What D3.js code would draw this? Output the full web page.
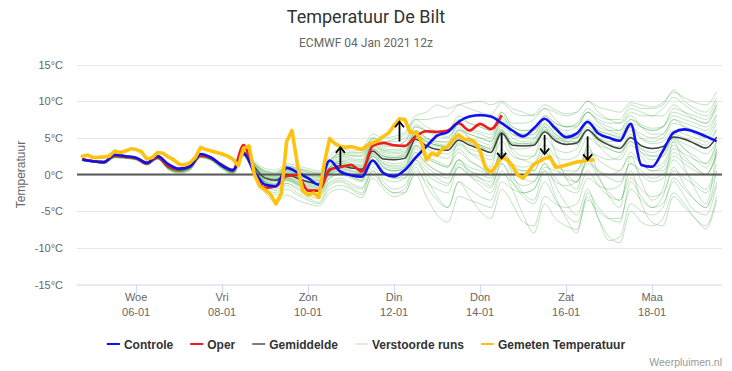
<!DOCTYPE html>
<html><head><meta charset="utf-8">
<script src="https://cdn.jsdelivr.net/npm/d3@7"></script>
<style>
body{margin:0;background:#fff;}
svg{display:block;font-family:"Liberation Sans",Arial,Helvetica,sans-serif;}
</style>
</head><body>
<svg id="chart" width="732" height="371"></svg>
<script>
// ---------- DATA ----------
const titleText = "Temperatuur De Bilt";
const subtitleText = "ECMWF 04 Jan 2021 12z";
const runStartUTC = Date.UTC(2021, 0, 4, 12); // forecast base time
// x-axis ticks (hours after run start) and labels
const tickHours = [36, 84, 132, 180, 228, 276, 324];
const tickDays = ["Woe", "Vri", "Zon", "Din", "Don", "Zat", "Maa"];
const tickDates = ["06-01", "08-01", "10-01", "12-01", "14-01", "16-01", "18-01"];
const yTicks = [-15, -10, -5, 0, 5, 10, 15];

// 6-hourly forecast steps (hours after run start)
const stepHours = [6,12,18,24,30,36,42,48,54,60,66,72,78,84,90,96,102,108,114,120,126,132,138,144,150,156,162,168,174,180,186,192,198,204,210,216,222,228,234,240,246,252,258,264,270,276,282,288,294,300,306,312,318,324,330,336,342,348,354,360];

const controle = [2.05,1.8,1.7,2.7,2.5,2.3,1.6,2.5,1.4,0.8,1.1,2.8,2.3,1.2,0.6,2.8,0.4,-1.4,-1.6,0.9,0.3,-0.5,-1.4,1.9,0.4,-0.1,-0.3,1.9,0.2,-0.25,0.6,2.3,3.8,5.3,5.8,7.2,7.9,8.1,7.9,7.0,6.0,5.2,6.3,7.6,6.3,5.1,5.6,7.2,5.6,5.0,4.6,6.9,1.3,1.05,3.2,5.7,6.15,5.8,5.2,4.55];

const oper = [2.1,1.8,1.7,2.6,2.4,2.2,1.5,2.4,1.1,0.7,1.1,2.6,2.2,1.3,0.6,4.0,0.0,-1.8,-1.6,-0.2,-0.1,-2.2,-2.2,0.7,1.0,1.3,0.4,3.9,4.3,4.0,3.9,5.2,5.9,5.8,6.0,7.0,6.0,6.9,6.2,8.1];

const gemiddelde = [2.0,1.8,1.6,2.5,2.4,2.2,1.5,2.3,1.0,0.6,1.0,2.6,2.2,1.2,0.5,3.0,1.0,-0.5,-0.8,0.0,-0.5,-1.0,-1.3,0.5,1.2,0.9,0.7,3.2,2.1,2.0,2.2,4.8,3.9,3.4,3.3,4.7,4.0,3.5,3.0,5.7,4.0,3.9,4.0,5.8,4.6,4.1,4.3,6.1,4.8,4.0,3.55,5.0,3.9,3.55,3.8,5.1,4.8,4.2,3.6,5.1];

// measured temperature, 3-hourly (hours after run start)
const gemetenHours = [6,9,12,15,18,21,24,27,30,33,36,39,42,45,48,51,54,57,60,63,66,69,72,75,78,81,84,87,90,93,96,99,102,105,108,111,114,117,120,123,126,129,132,135,138,141,144,147,150,153,156,159,162,165,168,171,174,177,180,183,186,189,192,195,198,201,204,207,210,213,216,219,222,225,228,231,234,237,240,243,246,249,252,255,258,261,264,267,270,273,276,279,282,285,288,291];
const gemeten = [2.5,2.65,2.3,2.35,2.4,2.5,3.2,3.0,3.2,3.5,3.4,3.1,2.1,2.3,3.0,2.9,2.4,2.0,1.4,1.3,1.6,2.3,3.7,3.4,3.2,3.0,2.8,2.5,2.1,1.2,3.6,3.9,0.0,-1.6,-2.1,-2.7,-4.0,-2.6,4.5,6.0,1.4,-2.3,-2.8,-2.5,-3.1,1.5,4.9,4.2,3.8,3.7,3.8,3.6,3.4,4.0,4.3,4.6,5.2,5.7,6.7,7.6,7.5,5.7,5.8,4.6,2.0,2.9,2.6,3.5,3.8,4.8,5.4,4.8,4.8,4.4,3.2,0.9,0.3,1.2,2.4,2.0,1.2,-0.1,-0.5,0.4,1.4,1.8,2.2,2.4,1.0,1.1,1.3,1.5,1.7,1.8,1.95,2.0];

// annotation arrows (hour, from value, to value)
const arrowHours = [150, 183, 240, 264, 288];
const arrowFrom = [1.3, 4.5, 5.6, 5.4, 5.2];
const arrowTo = [3.7, 7.2, 2.2, 2.8, 2.0];

// perturbed ensemble members (Verstoorde runs), 6-hourly
const members = [
[2.1,1.9,1.7,2.6,2.5,2.3,1.6,2.4,1.1,0.7,1.1,2.7,2.3,1.3,0.6,3.1,1.5,0.2,-0.1,0.8,0.5,0.0,-0.3,1.8,2.5,2.2,2.0,4.5,3.5,3.4,3.8,6.5,5.8,5.2,5.0,6.8,6.2,5.8,5.5,7.8,6.5,6.0,6.2,8.0,7.0,6.5,6.8,8.5,7.2,6.5,6.0,7.5,6.8,6.3,6.5,8.0,7.5,7.0,6.5,8.2],
[1.9,1.7,1.5,2.4,2.3,2.1,1.4,2.2,0.8,0.4,0.8,2.5,2.1,1.0,0.3,2.8,0.3,-1.5,-2.0,-1.2,-1.8,-2.5,-2.8,-1.0,-0.5,-1.2,-1.8,1.0,-0.5,-1.0,-0.5,2.0,0.5,-0.5,-1.2,1.0,-0.2,-1.0,-1.8,1.5,-0.5,-1.5,-1.0,1.5,-0.5,-2.0,-2.5,0.5,-1.5,-3.0,-3.5,-0.5,-2.0,-3.0,-2.5,0.5,-0.5,-1.5,-2.5,0.5],
[2.0,1.8,1.6,2.5,2.4,2.2,1.5,2.3,0.9,0.5,0.9,2.6,2.2,1.1,0.4,2.9,0.8,-1.0,-1.5,-0.5,-1.2,-1.8,-2.2,0.0,0.5,0.0,-0.5,2.0,0.8,0.5,0.8,3.0,1.5,0.5,0.0,2.0,0.5,-0.5,-1.5,1.5,-1.0,-3.0,-4.0,-1.0,-3.5,-5.5,-6.5,-3.0,-6.0,-8.5,-9.3,-5.0,-6.5,-7.0,-6.0,-2.5,-4.0,-6.0,-7.0,-3.0],
[2.1,1.9,1.8,2.7,2.6,2.4,1.7,2.5,1.2,0.8,1.2,2.8,2.4,1.4,0.8,3.2,1.8,0.8,0.6,1.5,1.2,0.8,0.5,2.5,3.5,3.2,3.5,5.5,5.0,5.2,5.8,8.0,8.5,9.5,9.0,9.5,9.0,8.5,8.2,9.8,8.5,8.0,8.2,9.5,8.8,8.3,8.5,10.0,9.2,8.8,8.5,9.8,9.5,9.2,9.8,11.2,10.5,9.8,9.5,11.3],
[1.9,1.7,1.5,2.3,2.2,2.0,1.3,2.1,0.7,0.2,0.6,2.3,1.9,0.8,0.0,2.6,0.0,-2.0,-2.8,-2.0,-2.8,-3.5,-4.0,-2.0,-1.5,-2.0,-2.8,-0.5,-2.0,-3.0,-2.5,0.0,-3.0,-5.5,-6.5,-3.0,-3.5,-4.0,-4.5,-1.0,-2.0,-2.5,-2.0,0.5,-1.0,-1.5,-1.0,1.5,0.5,0.0,0.5,2.5,1.5,0.5,1.0,3.5,2.8,2.0,1.5,4.0],
[2.0,1.8,1.7,2.5,2.4,2.2,1.6,2.3,1.1,0.7,1.1,2.7,2.3,1.3,0.6,3.1,1.2,-0.2,-0.5,0.5,0.0,-0.5,-0.8,1.0,1.8,1.5,1.2,3.8,2.8,2.5,2.8,5.5,4.5,4.0,3.8,5.2,4.5,4.0,3.5,6.5,5.0,4.5,4.8,6.8,5.5,5.0,5.2,7.0,5.8,5.0,4.5,6.0,4.8,4.2,4.5,6.0,5.5,5.0,4.5,6.2],
[2.0,1.8,1.6,2.5,2.4,2.1,1.4,2.3,1.0,0.5,0.9,2.5,2.1,1.1,0.4,2.9,0.6,-1.2,-1.8,-0.8,-1.5,-2.2,-2.8,-0.5,0.2,-0.3,-0.8,2.5,1.0,0.5,1.0,4.0,2.5,1.5,1.0,4.5,3.0,2.0,1.0,6.0,3.0,2.0,2.5,6.5,3.0,-0.5,-2.0,4.0,0.0,-3.0,-4.5,2.5,-1.0,-3.5,-2.0,4.5,1.0,-2.0,-4.0,3.5],
[2.1,1.9,1.7,2.6,2.5,2.3,1.6,2.4,1.1,0.6,1.0,2.6,2.2,1.2,0.5,3.0,1.0,-0.5,-0.9,0.0,-0.5,-1.0,-1.4,0.8,1.5,1.0,0.8,3.5,2.5,2.3,2.8,6.0,5.0,4.5,4.5,7.0,6.0,5.5,5.0,8.0,6.0,5.5,5.5,7.5,6.0,5.0,5.0,7.0,5.0,4.0,3.5,5.5,3.0,2.0,2.5,5.0,3.5,2.5,1.5,4.5],
[1.9,1.7,1.5,2.4,2.3,2.1,1.4,2.2,0.9,0.4,0.8,2.4,2.0,0.9,0.2,2.8,0.5,-1.0,-1.5,-0.5,-1.0,-1.5,-1.8,0.0,0.5,0.0,-0.3,2.5,1.0,0.5,0.5,3.0,1.5,0.5,0.0,2.0,0.0,-1.5,-2.5,0.5,-2.0,-5.5,-8.0,-4.0,-6.0,-7.0,-7.5,-3.5,-5.0,-6.0,-6.0,-2.0,-3.5,-4.5,-4.0,-0.5,-2.0,-3.5,-4.5,-1.0],
[2.0,1.8,1.7,2.6,2.5,2.3,1.6,2.4,1.2,0.8,1.2,2.8,2.4,1.4,0.7,3.1,1.5,0.5,0.3,1.2,0.8,0.5,0.2,2.0,3.0,3.0,3.0,5.0,4.5,4.8,5.5,7.5,7.5,7.8,8.0,9.5,9.8,10.0,9.5,10.0,9.0,8.5,8.0,9.0,7.5,6.5,6.5,8.5,7.0,6.0,5.5,7.5,6.5,6.0,6.5,9.0,8.5,8.0,7.5,9.5],
[2.0,1.8,1.6,2.5,2.4,2.2,1.5,2.3,1.0,0.6,1.0,2.6,2.2,1.2,0.5,3.0,0.8,-0.8,-1.2,-0.3,-0.8,-1.3,-1.6,0.2,0.8,0.5,0.2,3.0,1.8,1.5,1.8,4.5,3.5,3.0,2.8,4.2,3.5,3.0,2.5,5.5,3.5,3.5,4.0,6.0,5.0,4.5,5.0,7.0,6.0,5.5,5.0,6.5,5.0,4.5,5.0,7.0,6.5,6.0,5.5,7.5],
[1.9,1.7,1.6,2.4,2.3,2.1,1.4,2.2,0.9,0.5,0.9,2.5,2.1,1.1,0.4,2.9,0.9,-0.7,-1.0,-0.2,-0.7,-1.2,-1.5,0.3,1.0,0.6,0.3,2.8,1.5,1.2,1.5,4.0,3.0,2.5,2.2,4.0,3.0,2.5,2.0,4.5,2.5,2.0,1.5,3.5,1.5,0.0,-1.0,2.0,-0.5,-2.5,-3.5,0.5,-4.0,-6.5,-7.0,-3.0,-4.5,-6.0,-7.4,-3.5],
[2.1,1.9,1.7,2.6,2.4,2.2,1.5,2.3,1.0,0.6,1.0,2.7,2.3,1.3,0.6,3.1,1.3,0.0,-0.3,0.6,0.2,-0.2,-0.5,1.2,2.0,1.8,1.6,4.2,3.2,3.0,3.2,5.8,4.8,4.2,4.0,5.5,4.5,4.0,3.6,6.2,4.5,4.2,4.5,6.5,5.2,4.8,5.0,7.2,6.0,5.5,5.2,7.0,6.5,6.0,6.5,8.5,8.0,7.5,7.0,9.0],
[1.9,1.7,1.5,2.3,2.2,2.0,1.3,2.1,0.7,0.3,0.7,2.4,2.0,1.0,0.2,2.7,0.2,-1.8,-2.5,-1.5,-2.5,-3.2,-3.8,-1.5,-1.0,-1.8,-2.5,0.5,-1.5,-2.5,-2.0,1.0,-1.5,-3.5,-4.5,-1.0,-2.0,-3.0,-3.5,0.0,-1.0,-2.5,-2.0,1.0,0.5,0.0,0.5,3.0,2.5,2.0,2.5,4.5,3.5,3.0,3.5,5.5,5.0,4.5,4.0,6.0],
[2.0,1.8,1.7,2.6,2.5,2.3,1.6,2.4,1.1,0.7,1.1,2.7,2.3,1.3,0.6,3.1,1.2,-0.3,-0.6,0.3,-0.2,-0.6,-0.9,1.0,1.6,1.2,1.0,3.5,2.5,2.2,2.5,5.5,4.5,4.0,3.8,6.0,5.5,5.0,4.5,7.5,6.0,5.5,6.0,8.0,7.0,6.5,7.0,9.0,8.0,7.5,7.5,9.5,9.0,9.0,9.5,11.5,10.0,9.0,8.5,10.5],
[2.0,1.8,1.6,2.5,2.4,2.2,1.5,2.3,1.0,0.5,0.9,2.5,2.1,1.1,0.4,2.9,0.7,-1.0,-1.4,-0.6,-1.2,-1.7,-2.0,0.0,0.6,0.2,-0.2,2.5,1.2,0.8,1.0,3.5,2.2,1.5,1.0,3.0,1.8,1.0,0.2,3.0,0.5,-0.5,-1.0,1.5,-1.5,-4.0,-5.5,-2.0,-6.0,-9.0,-8.5,-4.0,-5.0,-5.5,-4.5,-1.0,-3.0,-5.0,-5.5,-1.5],
[2.1,1.9,1.8,2.7,2.5,2.3,1.6,2.4,1.1,0.7,1.1,2.7,2.3,1.3,0.6,3.1,1.4,0.3,0.0,1.0,0.6,0.2,-0.2,1.5,2.5,2.5,2.5,4.8,4.0,4.0,4.5,6.8,6.0,5.5,5.2,6.5,5.0,4.0,3.0,5.5,3.5,2.5,2.5,5.0,3.5,3.0,3.5,6.0,5.0,4.5,4.5,6.5,5.5,5.0,5.5,7.5,7.0,6.5,6.0,8.0],
[1.9,1.7,1.5,2.4,2.3,2.1,1.4,2.2,0.8,0.4,0.8,2.4,2.0,0.9,0.2,2.8,0.4,-1.5,-2.2,-1.2,-2.0,-2.8,-3.3,-1.2,-0.8,-1.5,-2.0,0.5,-1.0,-2.0,-1.5,1.5,0.0,-1.0,-1.5,1.5,0.5,0.0,-0.5,3.0,1.5,1.0,1.5,4.0,2.5,2.0,2.5,5.0,4.0,3.5,3.0,5.0,3.5,2.5,2.5,4.5,3.5,2.0,1.0,3.5],
[2.0,1.8,1.6,2.5,2.4,2.2,1.5,2.3,1.0,0.6,1.0,2.6,2.2,1.2,0.5,3.0,1.0,-0.4,-0.7,0.1,-0.4,-0.9,-1.2,0.6,1.3,1.0,0.8,3.3,2.2,2.0,2.3,5.0,4.0,3.5,3.3,5.0,4.2,3.6,3.0,6.0,4.2,4.0,4.2,6.0,4.8,4.2,4.5,6.5,5.0,4.2,3.8,5.2,4.0,3.5,3.8,5.2,4.8,4.2,3.6,5.2],
[2.1,1.9,1.7,2.6,2.5,2.3,1.6,2.4,1.1,0.7,1.1,2.7,2.3,1.3,0.6,3.1,1.6,0.5,0.2,1.2,0.9,0.5,0.2,2.0,2.8,2.6,2.5,4.5,3.8,3.8,4.5,6.5,6.0,5.8,6.0,7.5,7.0,6.5,6.0,8.5,7.0,7.0,7.5,9.0,8.5,8.0,8.5,10.0,8.5,7.5,7.0,8.0,6.5,5.5,5.5,7.5,6.5,5.5,5.0,7.0],
[1.9,1.7,1.5,2.3,2.2,2.0,1.3,2.1,0.7,0.2,0.6,2.3,1.9,0.8,0.0,2.5,-0.2,-2.5,-3.8,-2.8,-3.5,-4.0,-4.3,-2.5,-2.0,-2.5,-3.2,0.0,-1.5,-2.5,-2.5,0.5,-1.0,-2.0,-2.5,1.0,0.0,-0.5,-1.0,2.5,1.0,0.5,0.5,3.0,1.5,0.5,0.5,3.5,2.0,1.0,0.5,3.0,1.5,0.5,0.5,3.0,2.0,1.0,0.0,3.0],
[2.0,1.8,1.6,2.5,2.4,2.2,1.5,2.3,1.0,0.6,1.0,2.6,2.2,1.2,0.5,3.0,1.1,-0.3,-0.6,0.3,-0.2,-0.7,-1.0,0.8,1.5,1.2,1.0,3.5,2.5,2.3,2.5,5.2,4.2,3.8,3.6,5.2,4.3,3.8,3.3,6.0,4.3,4.2,4.3,6.2,5.0,4.5,4.5,6.0,4.5,3.5,3.0,4.5,3.0,2.5,3.0,4.8,4.2,3.5,2.8,4.5],
[2.0,1.8,1.6,2.5,2.4,2.2,1.5,2.3,0.9,0.5,0.9,2.5,2.1,1.1,0.4,2.9,0.8,-0.9,-1.3,-0.4,-1.0,-1.5,-1.8,0.2,0.8,0.4,0.0,2.8,1.5,1.0,1.2,3.8,2.5,1.8,1.2,3.5,2.0,1.0,0.0,3.0,0.0,-2.5,-3.5,0.5,-3.0,-6.0,-8.0,-2.5,-4.5,-6.0,-6.5,-1.0,-3.0,-4.5,-3.0,1.0,-1.5,-3.5,-4.5,0.5],
[2.1,1.9,1.7,2.6,2.5,2.3,1.6,2.4,1.1,0.7,1.1,2.7,2.3,1.3,0.6,3.1,1.5,0.4,0.1,1.0,0.7,0.3,0.0,1.8,2.8,2.8,2.8,5.0,4.5,4.5,5.0,7.5,6.5,6.0,6.0,8.0,7.0,6.5,6.0,8.5,6.5,6.0,6.0,7.5,6.0,5.5,5.5,7.5,6.5,6.0,6.0,8.5,8.0,8.0,9.0,10.5,9.5,8.5,8.0,10.0],
[1.9,1.7,1.6,2.4,2.3,2.1,1.4,2.2,0.9,0.5,0.9,2.5,2.1,1.0,0.3,2.8,0.5,-1.2,-1.6,-0.8,-1.4,-2.0,-2.4,-0.5,0.0,-0.5,-1.0,1.5,0.0,-0.5,0.0,2.5,1.0,0.0,-0.5,2.0,1.0,0.5,0.0,3.5,1.5,0.5,0.5,3.0,1.0,-0.5,-1.0,2.0,0.5,-0.5,-1.0,1.5,0.0,-1.0,-0.5,2.0,0.5,-1.0,-2.0,1.5],
[2.0,1.8,1.7,2.6,2.4,2.2,1.5,2.3,1.0,0.6,1.0,2.6,2.2,1.2,0.5,3.0,1.2,-0.1,-0.4,0.5,0.0,-0.4,-0.7,1.0,1.8,1.5,1.3,4.0,3.0,2.8,3.0,5.5,4.5,4.0,3.8,6.0,5.0,4.5,4.0,7.0,5.5,5.0,5.0,7.0,5.5,4.5,4.0,6.0,4.0,2.5,2.0,4.0,2.5,1.0,1.5,4.0,2.5,1.0,0.0,3.0],
[2.0,1.8,1.6,2.4,2.3,2.1,1.4,2.2,0.9,0.4,0.8,2.4,2.0,1.0,0.3,2.8,0.6,-1.1,-1.6,-0.7,-1.3,-1.9,-2.3,-0.3,0.2,-0.3,-0.8,2.0,0.5,-0.5,-0.5,2.0,-0.5,-3.0,-4.5,-1.0,-3.0,-5.0,-6.0,-2.0,-4.0,-6.5,-7.0,-3.0,-4.0,-4.5,-4.0,-0.5,-1.5,-2.0,-1.5,1.5,0.5,-0.5,0.0,2.5,1.5,0.5,0.0,2.5],
[2.0,1.8,1.7,2.5,2.4,2.2,1.5,2.3,1.0,0.6,1.0,2.6,2.2,1.2,0.5,3.0,1.3,0.1,-0.2,0.7,0.3,-0.1,-0.4,1.4,2.2,2.0,1.8,4.2,3.3,3.2,3.5,6.0,5.0,4.5,4.3,6.2,5.5,5.0,4.5,7.2,5.5,5.2,5.5,7.5,6.5,6.0,6.5,8.5,7.5,7.0,7.0,9.0,8.5,8.0,8.0,9.5,8.5,7.5,7.0,9.5]
];

const legendItems = [
  {name: "Controle", color: "#1010f0"},
  {name: "Oper", color: "#ee1c1c"},
  {name: "Gemiddelde", color: "#7a7a7a"},
  {name: "Verstoorde runs", color: "#dcefdc"},
  {name: "Gemeten Temperatuur", color: "#ffc20e"}
];
const creditText = "Weerpluimen.nl";

// ---------- CHART ----------
const svg = d3.select("#chart");
const plot = {left: 77, right: 722, top: 64.5, bottom: 284.5};
const HOUR = 3600e3;
const toDate = h => new Date(runStartUTC + h * HOUR);

const x = d3.scaleUtc().domain([toDate(3), toDate(363)]).range([plot.left, plot.right]);
const y = d3.scaleLinear().domain([-15, 15]).range([plot.bottom, plot.top]);

// title
svg.append("text").attr("x", 366).attr("y", 23).attr("text-anchor", "middle")
  .style("font-family", "Roboto, 'Liberation Sans', sans-serif")
  .style("font-size", "18px").attr("fill", "#333").text(titleText);
svg.append("text").attr("x", 366).attr("y", 47).attr("text-anchor", "middle")
  .style("font-family", "Roboto, 'Liberation Sans', sans-serif")
  .style("font-size", "12px").attr("fill", "#666").text(subtitleText);

// grid + y axis
const yAxis = d3.axisLeft(y).tickValues(yTicks).tickSize(0).tickPadding(14)
  .tickFormat(d => d + "°C");
const yg = svg.append("g").attr("transform", `translate(${plot.left},0)`).call(yAxis);
yg.select(".domain").remove();
yg.selectAll("text").attr("fill", "#666").style("font-size", "11px");

svg.append("g").selectAll("line").data(yTicks.filter(d => d !== -15)).join("line")
  .attr("x1", plot.left).attr("x2", plot.right)
  .attr("y1", d => Math.round(y(d)) + 0.5).attr("y2", d => Math.round(y(d)) + 0.5)
  .attr("stroke", "#e6e6e6").attr("stroke-width", 1);

svg.append("text").attr("transform", `translate(21,${(plot.top + plot.bottom) / 2}) rotate(-90)`)
  .attr("text-anchor", "middle").attr("dy", "0.35em")
  .style("font-size", "12px").attr("fill", "#666").text("Temperatuur");

// x axis
const xAxis = d3.axisBottom(x).tickValues(tickHours.map(toDate)).tickSize(10).tickFormat("");
const xg = svg.append("g").attr("transform", `translate(0,${plot.bottom})`).call(xAxis);
xg.select(".domain").attr("stroke", "#ccd6eb").attr("d", `M${plot.left},0.5H${plot.right}`);
xg.selectAll(".tick line").attr("stroke", "#ccd6eb");
const xl = svg.append("g");
tickHours.forEach((h, i) => {
  const t = xl.append("text").attr("x", x(toDate(h))).attr("text-anchor", "middle")
    .style("font-size", "11px").attr("fill", "#666");
  t.append("tspan").attr("x", x(toDate(h))).attr("y", 301).text(tickDays[i]);
  t.append("tspan").attr("x", x(toDate(h))).attr("y", 316).text(tickDates[i]);
});

// clip
svg.append("defs").append("clipPath").attr("id", "clip").append("rect")
  .attr("x", plot.left).attr("y", plot.top - 5).attr("width", plot.right - plot.left)
  .attr("height", plot.bottom - plot.top + 5);
const g = svg.append("g").attr("clip-path", "url(#clip)");

const mkLine = (hours, curve) => d3.line()
  .x((d, i) => x(toDate(hours[i]))).y(d => y(d)).curve(curve);

// ensemble
g.append("g").selectAll("path").data(members).join("path")
  .attr("d", mkLine(stepHours, d3.curveMonotoneX))
  .attr("fill", "none").attr("stroke", "#36a336").attr("stroke-opacity", 0.3)
  .attr("stroke-width", 1);

// zero line
g.append("line").attr("x1", plot.left).attr("x2", plot.right)
  .attr("y1", y(0)).attr("y2", y(0)).attr("stroke", "#5a5a5a").attr("stroke-width", 2);

// mean
g.append("path").datum(gemiddelde).attr("d", mkLine(stepHours, d3.curveMonotoneX))
  .attr("fill", "none").attr("stroke", "#404040").attr("stroke-width", 1.5);
// oper
g.append("path").datum(oper).attr("d", mkLine(stepHours, d3.curveMonotoneX))
  .attr("fill", "none").attr("stroke", "#ee1c1c").attr("stroke-width", 2.6);
// controle
g.append("path").datum(controle).attr("d", mkLine(stepHours, d3.curveMonotoneX))
  .attr("fill", "none").attr("stroke", "#1010f0").attr("stroke-width", 2.6);
// gemeten
g.append("path").datum(gemeten).attr("d", mkLine(gemetenHours, d3.curveLinear))
  .attr("fill", "none").attr("stroke", "#ffc20e").attr("stroke-width", 3.6)
  .attr("stroke-linejoin", "round").attr("stroke-linecap", "round");

// arrows
const ag = svg.append("g").attr("stroke", "#000").attr("stroke-width", 1.8).attr("fill", "none");
arrowHours.forEach((h, i) => {
  const ax = x(toDate(h)), y0 = y(arrowFrom[i]), y1 = y(arrowTo[i]);
  const dir = y1 < y0 ? 1 : -1; // 1 = pointing up
  ag.append("path").attr("d", `M${ax},${y0}L${ax},${y1}`);
  ag.append("path").attr("d", `M${ax - 4.5},${y1 + dir * 5.5}L${ax},${y1}L${ax + 4.5},${y1 + dir * 5.5}`);
});

// legend
const lg = svg.append("g");
const itemGap = 17, symW = 13, symGap = 4;
let cx = 0;
const items = legendItems.map(it => {
  const gi = lg.append("g");
  gi.append("line").attr("x1", 0).attr("x2", symW).attr("y1", 0).attr("y2", 0)
    .attr("stroke", it.color).attr("stroke-width", 2);
  const tx = gi.append("text").attr("x", symW + symGap).attr("y", 4.5)
    .style("font-size", "12px").style("font-weight", "bold").attr("fill", "#333").text(it.name);
  const w = symW + symGap + tx.node().getComputedTextLength();
  const pos = cx;
  cx += w + itemGap;
  return {gi, pos};
});
const totalW = cx - itemGap;
const startX = 366 - totalW / 2;
items.forEach(o => o.gi.attr("transform", `translate(${startX + o.pos},344)`));

// credit
svg.append("text").attr("x", 722).attr("y", 366).attr("text-anchor", "end")
  .style("font-size", "10.5px").attr("fill", "#999").text(creditText);
</script>
</body></html>
